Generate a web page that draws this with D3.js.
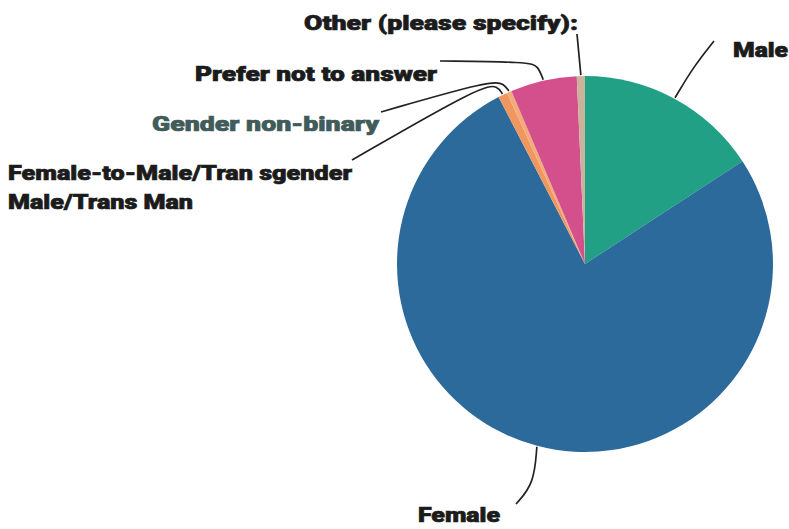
<!DOCTYPE html>
<html>
<head>
<meta charset="utf-8">
<script src="https://cdn.jsdelivr.net/npm/d3@7"></script>
<style>
  html, body { margin: 0; padding: 0; background: #ffffff; }
  svg { display: block; }
</style>
</head>
<body>
<svg id="chart" width="789" height="529"></svg>
<script>
// ---- data ----
const categories = [
  "Male",
  "Female",
  "Female-to-Male/Tran sgender Male/Trans Man",
  "Gender non-binary",
  "Prefer not to answer",
  "Other (please specify):"
];
const values = [15.8, 76.6, 0.8, 0.4, 5.7, 0.7];
const colors = ["#21a086", "#2c6a9b", "#f0965f", "#f4ab7a", "#d3508c", "#c9b49b"];

// ---- layout (not data) ----
const W = 789, H = 529;
const cx = 585, cy = 264, R = 188;
const labelLayout = [
  { lines: ["Male"], x: 788, y: 57, anchor: "end", widths: [55], color: "#1b1b1b",
    via: [[694, 66], [714, 41]] },
  { lines: ["Female"], x: 500, y: 522, anchor: "end", widths: [82], color: "#1b1b1b",
    via: [[534, 484], [516, 504]] },
  { lines: ["Female-to-Male/Tran sgender", "Male/Trans Man"], x: 8, y: 180, anchor: "start", widths: [344, 185], color: "#1b1b1b",
    via: [[498, 86], [482, 85], [352, 160]] },
  { lines: ["Gender non-binary"], x: 379, y: 131, anchor: "end", widths: [227], color: "#3f5b5a",
    via: [[504, 84], [492, 80], [381, 112]] },
  { lines: ["Prefer not to answer"], x: 437, y: 81, anchor: "end", widths: [242], color: "#1b1b1b",
    via: [[538, 66], [529, 62], [440, 61]] },
  { lines: ["Other (please specify):"], x: 578, y: 30, anchor: "end", widths: [274], color: "#1b1b1b",
    via: [[577, 34]] }
];

const data = categories.map((c, i) => ({ category: c, value: values[i], color: colors[i], layout: labelLayout[i] }));

const svg = d3.select("#chart");
const g = svg.append("g").attr("transform", `translate(${cx},${cy})`);

const pie = d3.pie().sort(null).value(d => d.value).startAngle(0).endAngle(2 * Math.PI);
const arc = d3.arc().innerRadius(0).outerRadius(R);
const arcs = pie(data);

g.selectAll("path.slice")
  .data(arcs)
  .join("path")
  .attr("class", "slice")
  .attr("d", arc)
  .attr("fill", d => d.data.color)
  .attr("stroke", "none");

// leader lines
const line = d3.line().curve(d3.curveBasis);
const leaders = svg.append("g");
arcs.forEach(a => {
  const mid = (a.startAngle + a.endAngle) / 2;
  const p = d3.pointRadial(mid, R + 1);
  const start = [cx + p[0], cy + p[1]];
  const pts = [start].concat(a.data.layout.via);
  leaders.append("path")
    .attr("d", line(pts))
    .attr("fill", "none")
    .attr("stroke", "#222")
    .attr("stroke-width", 1.7);
});

// labels
const labels = svg.append("g")
  .attr("font-family", "Roboto, 'DejaVu Sans', sans-serif")
  .attr("font-weight", 900)
  .attr("font-size", 21);
data.forEach(d => {
  const L = d.layout;
  L.lines.forEach((t, k) => {
    labels.append("text")
      .attr("x", L.x)
      .attr("y", L.y + k * 29)
      .attr("text-anchor", L.anchor)
      .attr("fill", L.color)
      .attr("stroke", L.color)
      .attr("stroke-width", 0.7)
      .attr("textLength", L.widths[k])
      .attr("lengthAdjust", "spacingAndGlyphs")
      .text(t);
  });
});
</script>
</body>
</html>
